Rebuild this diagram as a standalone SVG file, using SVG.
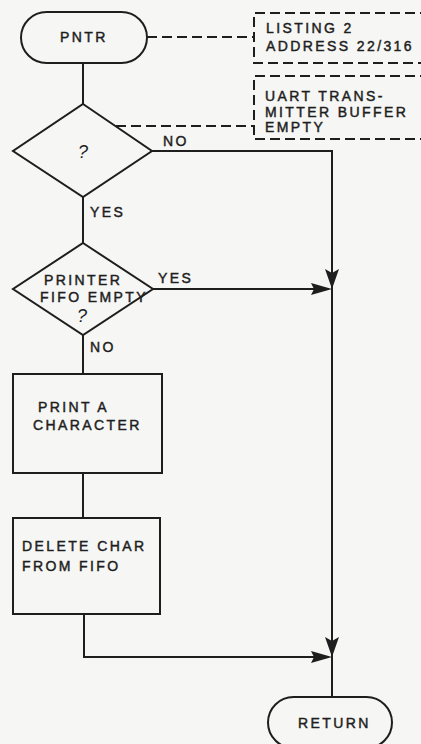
<svg xmlns="http://www.w3.org/2000/svg" width="421" height="744" viewBox="0 0 421 744">
<style>
.s{fill:none;stroke:#1e1e1e;stroke-width:2;stroke-linejoin:miter}
.d{fill:none;stroke:#1e1e1e;stroke-width:2;stroke-dasharray:10 5}
.t{font-family:"Liberation Sans",Arial,sans-serif;font-size:14px;letter-spacing:2.4px;fill:#1e1e1e;stroke:#1e1e1e;stroke-width:0.45}
.q{font-family:"Liberation Sans",Arial,sans-serif;font-size:18px;font-style:italic;fill:#1e1e1e}
.a{fill:#1e1e1e;stroke:none}
</style>
<rect width="421" height="744" fill="#f6f6f4"/>
<g id="connectors">
<path class="s" d="M83 63V104"/>
<path class="s" d="M83 197V243"/>
<path class="s" d="M83 335V374"/>
<path class="s" d="M83 473V518"/>
<path class="s" d="M84 614V657H316"/>
<path class="s" d="M152 151H332V697"/>
<path class="s" d="M153 289H316"/>
<path class="a" d="M332 289L311 283L314 289L311 295Z"/>
<path class="a" d="M332 289L325 269L332 273L339 269Z"/>
<path class="a" d="M332 657L311 651L314 657L311 663Z"/>
<path class="a" d="M332 657L325 637L332 641L339 637Z"/>
<path class="d" d="M147 37H254"/>
<path class="d" d="M116 126H254"/>
<text class="t" x="163" y="146">NO</text>
<text class="t" x="90" y="217">YES</text>
<text class="t" x="158" y="283">YES</text>
<text class="t" x="90" y="352">NO</text>
</g>
<g id="pntr">
<rect class="s" x="21" y="12" width="126" height="51" rx="25.5"/>
<text class="t" x="60" y="42">PNTR</text>
</g>
<g id="note1">
<path class="d" d="M430 13H254V63H430"/>
<text class="t" x="266" y="33">LISTING 2</text>
<text class="t" x="266" y="51">ADDRESS 22/316</text>
</g>
<g id="note2">
<path class="d" d="M430 76H254V139H430"/>
<text class="t" x="265" y="101">UART TRANS-</text>
<text class="t" x="265" y="117">MITTER BUFFER</text>
<text class="t" x="265" y="132">EMPTY</text>
</g>
<g id="decision1">
<path class="s" d="M83 104L152 151L83 197L13 151Z"/>
<text class="q" x="78" y="158">?</text>
</g>
<g id="decision2">
<path class="s" d="M83 243L153 289L83 335L13 289Z"/>
<text class="t" x="44" y="285">PRINTER</text>
<text class="t" x="40" y="302" letter-spacing="1.2">FIFO EMPTY</text>
<text class="q" x="77" y="322">?</text>
</g>
<g id="print">
<rect class="s" x="13" y="374" width="149" height="99"/>
<text class="t" x="38" y="412">PRINT A</text>
<text class="t" x="33" y="430">CHARACTER</text>
</g>
<g id="delete">
<rect class="s" x="13" y="518" width="147" height="96"/>
<text class="t" x="22" y="551">DELETE CHAR</text>
<text class="t" x="22" y="571">FROM FIFO</text>
</g>
<g id="return">
<rect class="s" x="268" y="697" width="124" height="51" rx="25.5"/>
<text class="t" x="298" y="728">RETURN</text>
</g>
</svg>
